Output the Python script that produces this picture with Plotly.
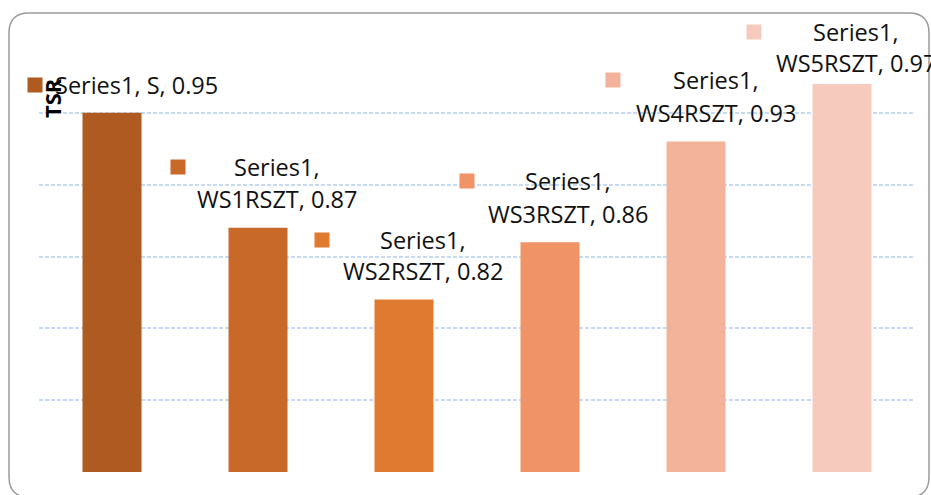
import plotly.graph_objects as go

# ---- data ----
categories = ["S", "WS1RSZT", "WS2RSZT", "WS3RSZT", "WS4RSZT", "WS5RSZT"]
values = [0.95, 0.87, 0.82, 0.86, 0.93, 0.97]
series_name = "Series1"
bar_colors = ["#AE5A21", "#C8692A", "#E07A30", "#F09468", "#F3B39B", "#F6CBBE"]

# ---- label layout (pixel offsets relative to bar top / centre) ----
wrap = [False, True, True, True, True, True]
line1_dy = [28, 61, 60, 61, 62, 52]
line2_dy = [None, 29, 29, 28, 29, 21]
text_dx = [24.5, 18.5, 18.5, 17.5, 19.5, 13.5]
sq_dx = [-77.5, -80.5, -82.5, -83.5, -83.5, -88.5]

W, H = 931, 495
ML, MR, MT, MB = 39, 16, 41, 23
PW, PH = W - ML - MR, H - MT - MB

FONT = "Open Sans"
TXT = "#111111"

fig = go.Figure()
fig.add_trace(go.Bar(
    x=list(range(len(categories))),
    y=values,
    marker=dict(color=bar_colors, line=dict(width=0)),
    width=59 / 146,
    hoverinfo="skip",
))

ann = []
for i, (c, v) in enumerate(zip(categories, values)):
    if wrap[i]:
        lines = [(f"{series_name},", line1_dy[i]), (f"{c}, {v:.2f}", line2_dy[i])]
    else:
        lines = [(f"{series_name}, {c}, {v:.2f}", line1_dy[i])]
    for t, dy in lines:
        ann.append(dict(x=i, y=v, xref="x", yref="y", text=t, showarrow=False,
                        xanchor="center", yanchor="middle", xshift=text_dx[i], yshift=dy,
                        font=dict(family=FONT, size=23.5, color=TXT)))
    # legend key square
    ann.append(dict(x=i, y=v, xref="x", yref="y", text=" ", showarrow=False,
                    xanchor="center", yanchor="middle", xshift=sq_dx[i], yshift=line1_dy[i],
                    width=14, height=14, borderpad=0, bgcolor=bar_colors[i],
                    font=dict(size=2)))

# y axis title
ann.append(dict(x=(52 - ML) / PW, y=(MT + PH - 98) / PH, xref="paper", yref="paper",
                text="<b>TSR</b>", textangle=-90, showarrow=False,
                xanchor="center", yanchor="middle",
                font=dict(family=FONT, size=22, color="#000000")))


def px(xp):
    return (xp - ML) / PW


def py(yp):
    return (MT + PH - yp) / PH


# rounded chart border
x0, y0, x1, y1, r = 9, 13, 929, 497, 20
path = (f"M {px(x0 + r)},{py(y0)} L {px(x1 - r)},{py(y0)} "
        f"Q {px(x1)},{py(y0)} {px(x1)},{py(y0 + r)} "
        f"L {px(x1)},{py(y1 - r)} Q {px(x1)},{py(y1)} {px(x1 - r)},{py(y1)} "
        f"L {px(x0 + r)},{py(y1)} Q {px(x0)},{py(y1)} {px(x0)},{py(y1 - r)} "
        f"L {px(x0)},{py(y0 + r)} Q {px(x0)},{py(y0)} {px(x0 + r)},{py(y0)} Z")

fig.update_layout(
    width=W, height=H,
    margin=dict(l=ML, r=MR, t=MT, b=MB),
    paper_bgcolor="white", plot_bgcolor="white",
    showlegend=False,
    bargap=0.596,
    xaxis=dict(range=[-0.5, len(categories) - 0.5], showticklabels=False, showgrid=False,
               zeroline=False, showline=False, ticks=""),
    yaxis=dict(range=[0.70, 1.00], dtick=0.05, tick0=0.70, showticklabels=False,
               showgrid=True, gridcolor="#C6DAF4", gridwidth=1.5, griddash="4px,2px",
               zeroline=False, showline=False, ticks=""),
    annotations=ann,
    shapes=[dict(type="path", path=path, xref="paper", yref="paper",
                 line=dict(color="#9A9A9A", width=1.5), fillcolor="rgba(0,0,0,0)",
                 layer="below")],
)

fig.write_html("out.html", config={"displayModeBar": False})

# remove the default page margin so the figure fills the window exactly
with open("out.html", "r", encoding="utf-8") as f:
    html = f.read()
html = html.replace("<body>", '<body style="margin:0;padding:0;overflow:hidden">', 1)
with open("out.html", "w", encoding="utf-8") as f:
    f.write(html)
